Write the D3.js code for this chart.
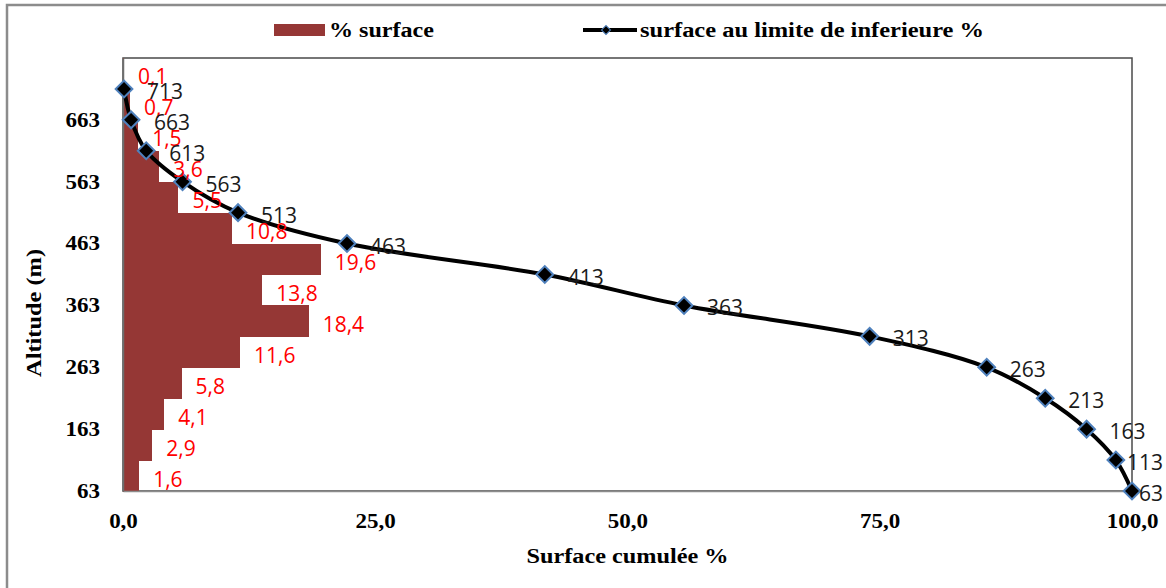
<!DOCTYPE html>
<html>
<head>
<meta charset="utf-8">
<script src="https://cdn.jsdelivr.net/npm/d3@7"></script>
<style>
  body { margin: 0; background: #fff; }
  svg { display: block; }
</style>
</head>
<body>
<div id="chart"></div>
<script>
// altitude at the lower limit of each 50 m band
var altitudes = [713, 663, 613, 563, 513, 463, 413, 363, 313, 263, 213, 163, 113, 63];
// % surface of each band (alt .. alt+50)
var surfacePct = [0.1, 0.7, 1.5, 3.6, 5.5, 10.8, 19.6, 13.8, 18.4, 11.6, 5.8, 4.1, 2.9, 1.6];
// cumulated surface above the lower limit
var cumulPct = [0.1, 0.8, 2.3, 5.9, 11.4, 22.2, 41.8, 55.6, 74.0, 85.6, 91.4, 95.5, 98.4, 100.0];
var yTicks = [63, 163, 263, 363, 463, 563, 663];
var xTicks = [0, 25, 50, 75, 100];
var bandSize = 50;

var W = 1166, H = 588;
var svg = d3.select("#chart").append("svg").attr("width", W).attr("height", H);

var serif = "'Liberation Serif', 'Times New Roman', serif";
var sans = "'Open Sans', 'Noto Sans', sans-serif";
var stretch = "scale(1.15,1)";

// chart frame
svg.append("rect")
  .attr("x", 7).attr("y", 5).attr("width", 1175).attr("height", 600)
  .attr("fill", "#fff").attr("stroke", "#8c8c8c").attr("stroke-width", 2.5);

var x = d3.scaleLinear().domain([0, 100]).range([123, 1132]);
var y = d3.scaleLinear().domain([63, 763]).range([491, 58]);

// plot area border
svg.append("rect")
  .attr("x", x(0)).attr("y", y(763))
  .attr("width", x(100) - x(0)).attr("height", y(63) - y(763))
  .attr("fill", "none").attr("stroke", "#4a4a4a").attr("stroke-width", 1.5);

//the bars
var bars = altitudes.map(function (a, i) {
  return { lo: a, hi: a + bandSize, v: surfacePct[i] };
});

svg.append("g").selectAll("rect")
  .data(bars)
  .enter()
  .append("rect")
  .attr("x", x(0))
  .attr("y", function (d) { return y(d.hi); })
  .attr("width", function (d) { return x(d.v) - x(0); })
  .attr("height", function (d) { return y(d.lo) - y(d.hi) + 0.6; })
  .attr("fill", "#953735")
  .attr("shape-rendering", "crispEdges");

//axes
var fmt = function (v) { return d3.format(".1f")(v).replace(".", ","); };

var gx = svg.append("g")
  .attr("transform", "translate(0," + y(63) + ")")
  .call(d3.axisBottom(x).tickValues(xTicks).tickSize(0).tickPadding(23).tickFormat(fmt));
gx.select(".domain").attr("stroke", "#8c8c8c").attr("stroke-width", 1.5);
gx.selectAll("text")
  .attr("font-family", serif).attr("font-size", 20).attr("font-weight", "bold")
  .attr("fill", "#000").attr("transform", stretch);

var gy = svg.append("g")
  .attr("transform", "translate(" + x(0) + ",0)")
  .call(d3.axisLeft(y).tickValues(yTicks).tickSize(0).tickPadding(20));
gy.select(".domain").attr("stroke", "#6e6e6e").attr("stroke-width", 1.5);
gy.selectAll("text")
  .attr("font-family", serif).attr("font-size", 20).attr("font-weight", "bold")
  .attr("fill", "#000").attr("transform", stretch);

//the cumulated line
var pts = altitudes.map(function (a, i) { return { alt: a, c: cumulPct[i] }; });

var line = d3.line()
  .x(function (d) { return x(d.c); })
  .y(function (d) { return y(d.alt); })
  .curve(d3.curveCatmullRom.alpha(0.5));

svg.append("path")
  .datum(pts)
  .attr("d", line)
  .attr("fill", "none")
  .attr("stroke", "#000")
  .attr("stroke-width", 4);

var diamond = d3.symbol().type(d3.symbolSquare).size(140);
svg.append("g").selectAll("path")
  .data(pts)
  .enter()
  .append("path")
  .attr("d", diamond)
  .attr("transform", function (d) {
    return "translate(" + x(d.c) + "," + y(d.alt) + ") rotate(45)";
  })
  .attr("fill", "#000")
  .attr("stroke", "#4f81bd")
  .attr("stroke-width", 2);

//red labels for the bars
svg.append("g").selectAll("text")
  .data(bars)
  .enter()
  .append("text")
  .attr("x", function (d) { return x(d.v) + 14; })
  .attr("y", function (d) { return (y(d.lo) + y(d.hi)) / 2 + 3; })
  .attr("dominant-baseline", "central")
  .attr("font-family", sans).attr("font-size", 21)
  .attr("fill", "#ff0000")
  .text(function (d) { return fmt(d.v); });

//black altitude labels for the points
svg.append("g").selectAll("text")
  .data(pts)
  .enter()
  .append("text")
  .attr("y", function (d) { return y(d.alt) + 2; })
  .attr("dominant-baseline", "central")
  .attr("font-family", sans).attr("font-size", 21)
  .attr("fill", "#1a1a1a")
  .text(function (d) { return d.alt; })
  .attr("x", function (d) {
    var w = this.getComputedTextLength();
    return Math.min(x(d.c) + 23, W - 3 - w);
  });

//axis titles
svg.append("text")
  .attr("x", (x(0) + x(100)) / 2).attr("y", 556)
  .attr("text-anchor", "middle").attr("dominant-baseline", "central")
  .attr("font-family", serif).attr("font-size", 20).attr("font-weight", "bold")
  .attr("textLength", 202).attr("lengthAdjust", "spacingAndGlyphs")
  .text("Surface cumulée %");

svg.append("text")
  .attr("transform", "translate(34,313) rotate(-90)")
  .attr("text-anchor", "middle").attr("dominant-baseline", "central")
  .attr("font-family", serif).attr("font-size", 21).attr("font-weight", "bold")
  .attr("textLength", 128).attr("lengthAdjust", "spacingAndGlyphs")
  .text("Altitude (m)");

//the legend
var legend = svg.append("g").attr("class", "legend");
var ly = 30;
legend.append("rect")
  .attr("x", 274).attr("y", ly - 6).attr("width", 51).attr("height", 12)
  .attr("fill", "#953735");
legend.append("text")
  .attr("x", 329).attr("y", ly).attr("dominant-baseline", "central")
  .attr("font-family", serif).attr("font-size", 20).attr("font-weight", "bold")
  .attr("textLength", 105).attr("lengthAdjust", "spacingAndGlyphs")
  .text("% surface");
legend.append("line")
  .attr("x1", 583).attr("x2", 637).attr("y1", ly).attr("y2", ly)
  .attr("stroke", "#000").attr("stroke-width", 4);
legend.append("path")
  .attr("d", d3.symbol().type(d3.symbolSquare).size(40))
  .attr("transform", "translate(606," + ly + ") rotate(45)")
  .attr("fill", "#000").attr("stroke", "#4f81bd").attr("stroke-width", 1);
legend.append("text")
  .attr("x", 640).attr("y", ly).attr("dominant-baseline", "central")
  .attr("font-family", serif).attr("font-size", 20).attr("font-weight", "bold")
  .attr("textLength", 344).attr("lengthAdjust", "spacingAndGlyphs")
  .text("surface au limite de inferieure %");
</script>
</body>
</html>
